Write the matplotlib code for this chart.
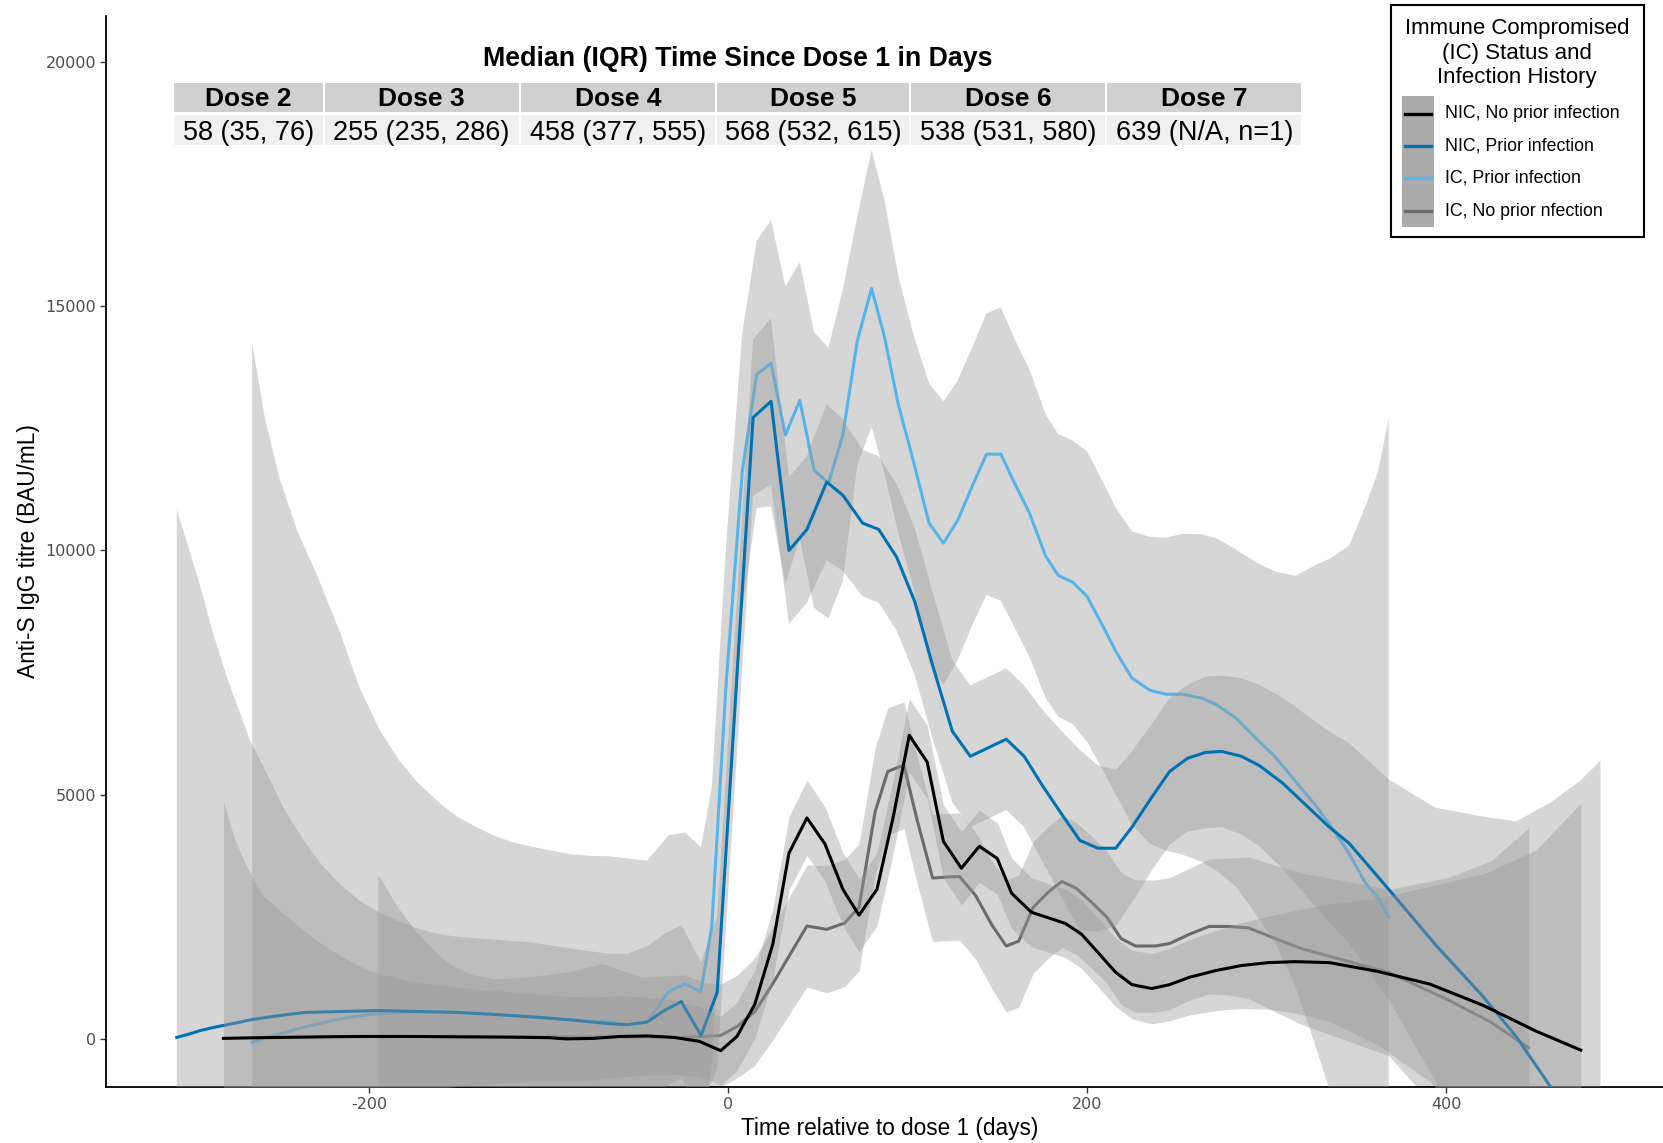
import numpy as np
import matplotlib.pyplot as plt
from matplotlib.patches import Rectangle
from matplotlib.lines import Line2D

plt.rcParams['font.family'] = ['Liberation Sans', 'DejaVu Sans']
plt.rcParams['axes.unicode_minus'] = False

W, H = 1663, 1143

# IC, Prior infection (light blue)
ic_prior_days = [-265, -258, -250, -240, -228, -216, -205, -194, -183, -173, -160, -151, -140, -130,
                 -120, -109, -98, -88, -77, -66, -56, -45, -33, -24, -15, -9, -1, 8, 16, 24, 32,
                 40, 48, 56, 64, 72, 80, 87, 95, 103, 112, 120, 128, 136, 144, 152, 160, 168, 177,
                 184, 192, 200, 208, 216, 225, 235, 244, 253, 264, 272, 283, 294, 305, 316, 327,
                 336, 346, 355, 362, 368]
ic_prior_med = [-60, 30, 110, 210, 320, 420, 480, 530, 550, 560, 565, 560, 540, 510,
                485, 460, 430, 400, 375, 355, 300, 355, 980, 1130, 980, 2310, 7280, 11620, 13600,
                13830, 12360, 13070, 11640, 11380, 12360, 14280, 15360, 14400, 12970, 11870,
                10560, 10150, 10620, 11310, 11970, 11970, 11350, 10760, 9880, 9490, 9350, 9060,
                8510, 7940, 7390, 7140, 7060, 7060, 6980, 6850, 6570, 6160, 5770, 5280, 4800,
                4350, 3800, 3200, 2900, 2500]
ic_prior_se = [14300, 12700, 11400, 10200, 9100, 7900, 6700, 5800, 5150, 4700, 4250, 4000, 3800,
               3650, 3550, 3480, 3430, 3390, 3380, 3390, 3400, 3300, 3200, 3100, 2950, 2850, 2850,
               2840, 2730, 2930, 3040, 2830, 2820, 2770, 2980, 2540, 2830, 2800, 2630, 2590, 2860,
               2900, 2860, 2840, 2880, 3000, 2950, 2940, 2900, 2890, 2900, 2970, 2950, 2930, 3000,
               3140, 3200, 3280, 3350, 3400, 3450, 3600, 3800, 4200, 4900, 5500, 6300, 7700,
               8700, 10200]

# NIC, Prior infection (dark blue)
nic_prior_days = [-307, -300, -294, -287, -279, -272, -266, -257, -247, -236, -226, -216, -205,
                  -194, -183, -173, -162, -151, -130, -109, -88, -66, -56, -45, -35, -26, -15, -6,
                  14, 24, 34, 44, 55, 64, 75, 84, 94, 104, 114, 125, 135, 155, 165, 175, 186, 196,
                  206, 216, 225, 236, 246, 256, 266, 275, 286, 296, 309, 322, 335, 346, 368, 394,
                  420, 439, 458, 475, 486]
nic_prior_med = [40, 110, 180, 240, 300, 350, 400, 450, 500, 550, 560, 570, 580, 590, 580, 570,
                 560, 550, 510, 460, 400, 320, 300, 355, 600, 770, 80, 960, 12720, 13050, 10000,
                 10430, 11400, 11130, 10560, 10430, 9860, 8960, 7650, 6300, 5790, 6140, 5790, 5200,
                 4600, 4070, 3910, 3910, 4340, 4950, 5480, 5750, 5870, 5890, 5790, 5600, 5240,
                 4790, 4340, 4010, 3070, 1940, 900, 60, -960, -2000, -2800]
nic_prior_se = [10800, 9900, 9100, 8100, 7100, 6350, 5700, 5000, 4200, 3500, 3000, 2600, 2250,
                2000, 1830, 1700, 1600, 1550, 1530, 1520, 1460, 1430, 1450, 1550, 1570, 1570, 1500,
                1550, 1600, 1700, 1500, 1500, 1600, 1550, 1500, 1500, 1500, 1500, 1500, 1450, 1450,
                1450, 1450, 1550, 1700, 1850, 1700, 1600, 1550, 1500, 1500, 1500, 1550, 1550, 1600,
                1650, 1750, 1850, 1950, 2050, 2250, 2800, 3660, 4400, 5800, 7300, 8500]

# NIC, No prior infection (black)
nic_noprior_days = [-281, -275, -268, -260, -250, -240, -230, -220, -210, -200, -190, -180, -170,
                    -160, -150, -140, -120, -100, -90, -75, -60, -45, -30, -16, -4, 5, 15, 25, 34,
                    44, 54, 64, 73, 83, 92, 101, 111, 120, 130, 140, 150, 158, 169, 179, 188, 197,
                    207, 216, 225, 236, 246, 257, 272, 286, 301, 316, 335, 362, 391, 421, 450, 475]
nic_noprior_med = [20, 25, 30, 35, 40, 45, 50, 55, 58, 60, 60, 60, 58, 55, 52, 50, 45, 35, 10, 20,
                   60, 70, 40, -40, -230, 60, 720, 1950, 3810, 4530, 4000, 3070, 2540, 3070, 4540,
                   6220, 5670, 4050, 3500, 3950, 3700, 2990, 2600, 2480, 2370, 2150, 1740, 1370,
                   1120, 1040, 1120, 1270, 1410, 1510, 1570, 1590, 1570, 1390, 1130, 690, 170, -220]
nic_noprior_se = [4870, 4100, 3500, 2950, 2600, 2300, 2000, 1750, 1530, 1350, 1250, 1150, 1100,
                  1050, 1010, 980, 920, 880, 870, 850, 830, 800, 760, 720, 700, 700, 700, 720, 750,
                  770, 760, 750, 750, 750, 750, 750, 750, 750, 750, 740, 730, 720, 710, 700, 700,
                  700, 700, 700, 700, 720, 740, 770, 820, 880, 950, 1050, 1200, 1500, 2000, 2700,
                  3700, 5050]

# IC, No prior infection (grey)
ic_noprior_days = [-195, -184, -173, -162, -152, -141, -130, -109, -88, -70, -48, -24, -13, -4, 5,
                   15, 25, 34, 44, 55, 65, 73, 82, 89, 98, 105, 114, 122, 129, 138, 147, 155, 162,
                   170, 179, 186, 194, 203, 211, 219, 227, 238, 246, 257, 268, 279, 290, 305, 320,
                   335, 368, 401, 425, 446]
ic_noprior_med = [50, 55, 60, 60, 60, 60, 60, 55, 50, 50, 45, 40, 60, 80, 260, 570, 1140, 1700,
                  2320, 2250, 2380, 2700, 4660, 5480, 5610, 4540, 3300, 3320, 3330, 2940, 2340,
                  1910, 2010, 2700, 3030, 3230, 3090, 2790, 2500, 2060, 1910, 1910, 1960, 2150,
                  2310, 2310, 2280, 2060, 1850, 1700, 1370, 810, 350, -170]
ic_noprior_se = [3330, 2650, 2120, 1700, 1410, 1250, 1180, 1230, 1340, 1500, 1230, 1280, 1100, 1050,
                 1050, 1100, 1150, 1200, 1250, 1300, 1300, 1300, 1300, 1300, 1300, 1300, 1300, 1300,
                 1300, 1300, 1300, 1350, 1350, 1350, 1350, 1350, 1350, 1350, 1350, 1350, 1350, 1350,
                 1350, 1350, 1380, 1400, 1450, 1500, 1550, 1600, 1700, 2500, 3300, 4500]

legend_labels = ['NIC, No prior infection', 'NIC, Prior infection', 'IC, Prior infection',
                 'IC, No prior nfection']
legend_colors = ['#000000', '#0072B2', '#56B4E9', '#6b6b6b']

dose_names = ['Dose 2', 'Dose 3', 'Dose 4', 'Dose 5', 'Dose 6', 'Dose 7']
dose_times = ['58 (35, 76)', '255 (235, 286)', '458 (377, 555)', '568 (532, 615)',
              '538 (531, 580)', '639 (N/A, n=1)']

x_ticks = [-200, 0, 200, 400]
y_ticks = [0, 5000, 10000, 15000, 20000]

fig = plt.figure(figsize=(W / 100, H / 100), dpi=100)
ax = fig.add_axes([106 / W, 1 - 1087 / H, (W - 106) / W, (1087 - 16) / H])

# drawing order: last group first, so black ends up on top
series = [
    (ic_noprior_days, ic_noprior_med, ic_noprior_se, legend_colors[3]),
    (ic_prior_days, ic_prior_med, ic_prior_se, legend_colors[2]),
    (nic_prior_days, nic_prior_med, nic_prior_se, legend_colors[1]),
    (nic_noprior_days, nic_noprior_med, nic_noprior_se, legend_colors[0]),
]
for i, (d, m, s, c) in enumerate(series):
    d = np.array(d)
    m = np.array(m, dtype=float)
    s = np.array(s, dtype=float)
    ax.fill_between(d, m - s, m + s, color='#999999', alpha=0.4, linewidth=0, zorder=2 * i + 1)
    ax.plot(d, m, color=c, lw=2.2, zorder=2 * i + 2)

ax.set_xlim(-346.4, 520.8)
ax.set_ylim(-974, 20932)
ax.set_xticks(x_ticks)
ax.set_yticks(y_ticks)
ax.set_xticklabels([str(t) for t in x_ticks], family='DejaVu Sans')
ax.set_yticklabels([str(t) for t in y_ticks], family='DejaVu Sans')
ax.tick_params(length=4, width=1, color='#333333', labelsize=11.5, labelcolor='#4D4D4D', pad=3)
for sp in ['top', 'right']:
    ax.spines[sp].set_visible(False)
for sp in ['left', 'bottom']:
    ax.spines[sp].set_linewidth(1.3)
ax.patch.set_alpha(0)

fig.text(890 / W, 1 - 1128 / H, 'Time relative to dose 1 (days)', ha='center', va='center',
         fontsize=16.3)
fig.text(28.6 / W, 1 - 551.5 / H, 'Anti-S IgG titre (BAU/mL)', ha='center', va='center',
         fontsize=16.3, rotation=90)


def box(x0, y0, x1, y1, **kw):
    fig.add_artist(Rectangle((x0 / W, 1 - y1 / H), (x1 - x0) / W, (y1 - y0) / H,
                             transform=fig.transFigure, **kw))


# table of median (IQR) times
fig.text(738 / W, 1 - 59.5 / H, 'Median (IQR) Time Since Dose 1 in Days', ha='center',
         va='center', fontsize=19.3, fontweight='bold')
col_edges = [172.9, 323.5, 519.7, 715.9, 910.0, 1106.0, 1302.4]
for j in range(len(dose_names)):
    x0, x1 = col_edges[j] + 1, col_edges[j + 1] - 1
    box(x0, 82.7, x1, 112.4, facecolor='#D0D0D0', edgecolor='none', zorder=5)
    box(x0, 114.5, x1, 145.3, facecolor='#F0F0F0', edgecolor='none', zorder=5)
    xc = (col_edges[j] + col_edges[j + 1]) / 2
    fig.text(xc / W, 1 - 99.5 / H, dose_names[j], ha='center', va='center', fontsize=19,
             fontweight='bold', zorder=6)
    fig.text(xc / W, 1 - 132.5 / H, dose_times[j], ha='center', va='center', fontsize=19.5,
             zorder=6)

# legend
box(1390.5, 5.3, 1644, 236.5, facecolor='white', edgecolor='black', linewidth=1.5, zorder=7)
fig.text(1517 / W, 1 - 53 / H, 'Immune Compromised\n(IC) Status and\nInfection History',
         ha='center', va='center', fontsize=16, linespacing=1.2, zorder=8)
box(1402, 96.5, 1434, 227, facecolor='#ABABAB', edgecolor='none', zorder=8)
key_y = [113.5, 146.4, 178.2, 211.0]
for lab, col, y in zip(legend_labels, legend_colors, key_y):
    fig.add_artist(Line2D([1405 / W, 1431 / W], [1 - y / H, 1 - y / H], color=col, lw=2.4,
                          transform=fig.transFigure, zorder=9))
    fig.text(1444.6 / W, 1 - y / H, lab, ha='left', va='center', fontsize=12.8, zorder=9)

fig.savefig('out.png', dpi=100)
